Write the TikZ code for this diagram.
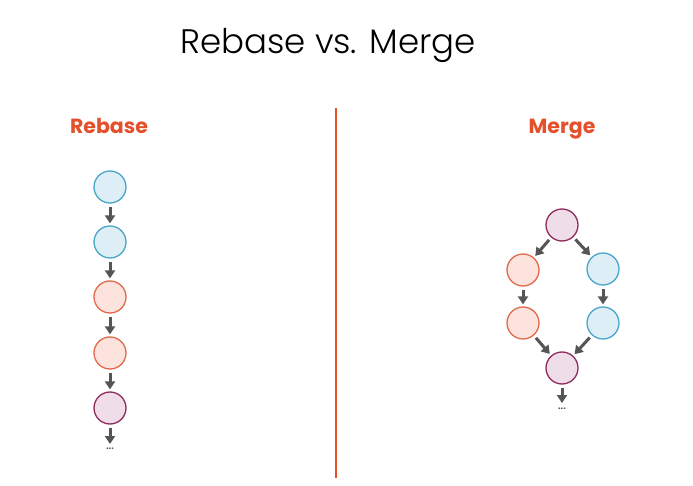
\documentclass[tikz,border=0pt]{standalone}
\usepackage{fontspec}
\setmainfont{Poppins}
\newfontfamily\titlefont{Poppins Light}
\usetikzlibrary{arrows.meta}
\definecolor{hdr}{HTML}{E4502B}
\definecolor{bluefill}{HTML}{DDEEF6}
\definecolor{bluedraw}{HTML}{4AA6C6}
\definecolor{orfill}{HTML}{FDE3DE}
\definecolor{ordraw}{HTML}{E2694B}
\definecolor{pufill}{HTML}{EFDDE9}
\definecolor{pudraw}{HTML}{8E2D5C}
\definecolor{arr}{HTML}{555555}
\tikzset{
  commit/.style={circle, minimum size=32pt, inner sep=0pt, line width=1.3pt},
  bluec/.style={commit, fill=bluefill, draw=bluedraw},
  orc/.style={commit, fill=orfill, draw=ordraw},
  puc/.style={commit, fill=pufill, draw=pudraw},
  conn/.style={draw=arr, line width=3pt, -{Triangle[length=8pt,width=10pt]}, shorten <=3pt, shorten >=2pt},
  heading/.style={text=hdr, font=\fontsize{20.5}{24}\selectfont\bfseries, anchor=base},
  dots/.style={text=arr, font=\fontsize{9}{9}\selectfont\bfseries, inner sep=0pt, anchor=center}
}
\begin{document}
\begin{tikzpicture}[x=1pt,y=-1pt]
\useasboundingbox[fill=white] (0,0) rectangle (693,486);
\node[anchor=base] (title) at (328,54) {\titlefont\fontsize{34}{40}\selectfont Rebase vs. Merge};
\node[heading] (hr) at (109,134) {Rebase};
\node[heading] (hm) at (562,134) {Merge};
\coordinate (lt) at (336,108);
\coordinate (lb) at (336,478);
\draw[hdr, line width=2pt] (lt) -- (lb);
% Rebase
\node[bluec] (r1) at (110,187) {};
\node[bluec] (r2) at (110,242) {};
\node[orc] (r3) at (110,297) {};
\node[orc] (r4) at (110,353) {};
\node[puc] (r5) at (110,408) {};
\coordinate (re) at (110,444);
\node[dots] (rd) at (110,449) {...};
\draw[conn] (r1) -- (r2);
\draw[conn] (r2) -- (r3);
\draw[conn] (r3) -- (r4);
\draw[conn] (r4) -- (r5);
\draw[conn, shorten >=0pt] (r5) -- (re);
% Merge
\node[puc] (m1) at (562,225) {};
\node[orc] (m2) at (523,270) {};
\node[bluec] (m3) at (603,269) {};
\node[orc] (m4) at (523,323) {};
\node[bluec] (m5) at (603,323) {};
\node[puc] (m6) at (562,368) {};
\coordinate (me) at (562,403);
\node[dots] (md) at (562,409) {...};
\draw[conn] (m1) -- (m2);
\draw[conn] (m1) -- (m3);
\draw[conn] (m2) -- (m4);
\draw[conn] (m3) -- (m5);
\draw[conn] (m4) -- (m6);
\draw[conn] (m5) -- (m6);
\draw[conn, shorten >=0pt] (m6) -- (me);
\end{tikzpicture}
\end{document}
